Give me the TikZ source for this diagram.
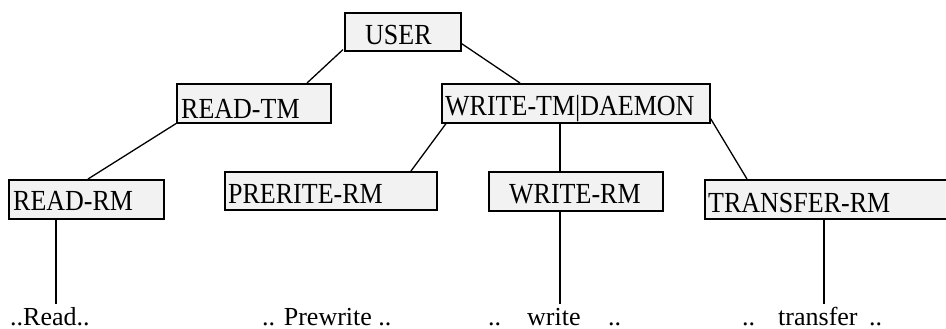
\documentclass[tikz,border=0pt]{standalone}
\usepackage{fontspec}
\setmainfont{Liberation Serif}
\usetikzlibrary{calc}
\definecolor{boxfill}{HTML}{F2F2F2}
\newcommand{\tallt}[1]{\scalebox{1}[1.12]{#1}}
\tikzset{
  box/.style={draw=black, line width=1.6pt, fill=boxfill, inner sep=0pt, anchor=north west},
  lbl/.style={inner sep=0pt, anchor=base west, font=\fontsize{26}{30}\selectfont},
  conn/.style={draw=black, line width=1.3pt}
}
\begin{document}
\begin{tikzpicture}[x=1pt,y=-1pt]
\useasboundingbox (0,0) rectangle (946,329);
% boxes
\node[box, minimum width=116pt, minimum height=38pt] (user) at (344,12) {};
\node[box, minimum width=154pt, minimum height=39pt] (readtm) at (176,83) {};
\node[box, minimum width=268pt, minimum height=39pt] (writetm) at (441,83) {};
\node[box, minimum width=155pt, minimum height=39pt] (readrm) at (8,179) {};
\node[box, minimum width=212pt, minimum height=38pt] (prerite) at (224,171) {};
\node[box, minimum width=174pt, minimum height=39pt] (writerm) at (488,171) {};
\node[box, minimum width=260pt, minimum height=39pt] (transfer) at (704,179) {};
% labels
\node[lbl] (tuser) at (365,45) {\tallt{USER}};
\node[lbl] (treadtm) at (181,118) {\tallt{READ-TM}};
\node[lbl] (twritetm) at (445,116) {\tallt{WRITE-TM|DAEMON}};
\node[lbl] (treadrm) at (13,210) {\tallt{READ-RM}};
\node[lbl] (tprerite) at (228,203) {\tallt{PRERITE-RM}};
\node[lbl] (twriterm) at (509,203) {\tallt{WRITE-RM}};
\node[lbl] (ttransfer) at (708,212) {\tallt{TRANSFER-RM}};
% bottom ends
\coordinate (endread) at (56,304);
\coordinate (endwrite) at (560,304);
\coordinate (endtransfer) at (824,304);
% connectors
\draw[conn] ($(user.south west)+(-1,-2)$) -- ($(readtm.north west)+(131,0)$);
\draw[conn] ($(user.south east)+(0,-8)$) -- ($(writetm.north west)+(79,0)$);
\draw[conn] (readtm.south west) -- ($(readrm.north west)+(80,0)$);
\draw[conn] ($(writetm.south west)+(5,0)$) -- ($(prerite.north west)+(187,0)$);
\draw[conn] ($(writetm.south west)+(119,0)$) -- ($(writerm.north west)+(72,0)$);
\draw[conn] ($(writetm.south east)+(0,-5)$) -- ($(transfer.north west)+(43,0)$);
\draw[conn] ($(readrm.south west)+(48,0)$) -- (endread);
\draw[conn] ($(writerm.south west)+(72,0)$) -- (endwrite);
\draw[conn] ($(transfer.south west)+(120,0)$) -- (endtransfer);
% bottom texts
\node[lbl] (bread) at (10,325) {..Read..};
\node[lbl] (bprew) at (262,325) {.. Prewrite ..};
\node[lbl] (bw1) at (488,325) {..};
\node[lbl] (bw2) at (527,325) {write};
\node[lbl] (bw3) at (608,325) {..};
\node[lbl] (bt1) at (742,325) {..};
\node[lbl] (bt2) at (778,325) {transfer};
\node[lbl] (bt3) at (869,325) {..};
\end{tikzpicture}
\end{document}
